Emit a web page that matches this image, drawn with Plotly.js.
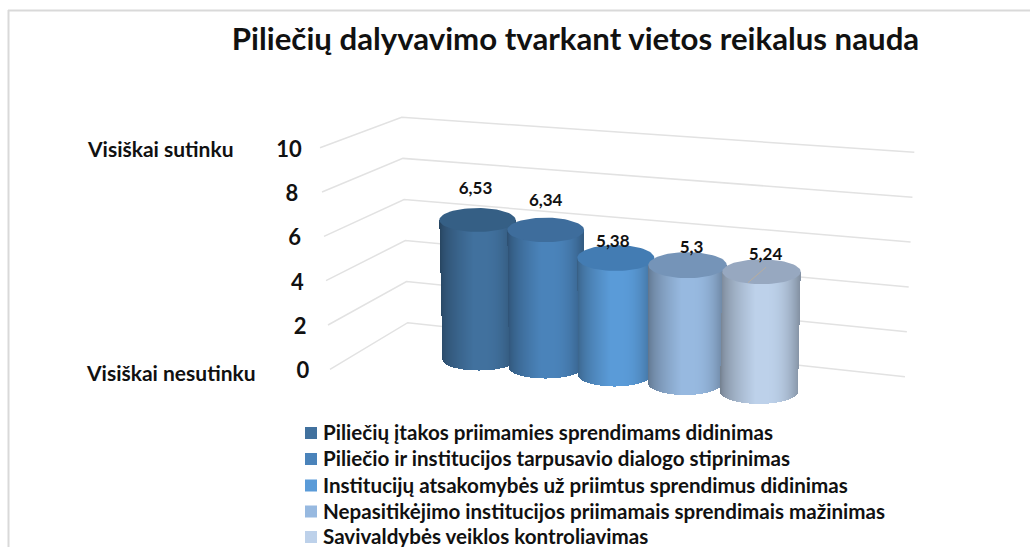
<!DOCTYPE html>
<html><head><meta charset="utf-8">
<script src="https://cdn.plot.ly/plotly-3.0.1.min.js"></script>
<style>html,body{margin:0;padding:0;background:#fff;overflow:hidden}#c{width:1030px;height:547px}</style>
</head><body><div id="c"></div>
<script>
// ---- data ----
var seriesNames = [
  "Piliečių įtakos priimamies sprendimams didinimas",
  "Piliečio ir institucijos tarpusavio dialogo stiprinimas",
  "Institucijų atsakomybės už priimtus sprendimus didinimas",
  "Nepasitikėjimo institucijos priimamais sprendimais mažinimas",
  "Savivaldybės veiklos kontroliavimas"
];
var seriesValues = [6.53, 6.34, 5.38, 5.3, 5.24];
var valueLabels = ["6,53", "6,34", "5,38", "5,3", "5,24"];
var axisTicks = [0, 2, 4, 6, 8, 10];
var chartTitle = "Piliečių dalyvavimo tvarkant vietos reikalus nauda";
var scaleLabelTop = "Visiškai sutinku";
var scaleLabelBottom = "Visiškai nesutinku";

// ---- 3D-look projection (style/geometry, separate from the data) ----
var FONT = "Lato, Carlito, sans-serif";
var swatch = ["#41719E", "#4A83BA", "#5A9BD8", "#97B9E0", "#BDD1EA"];
var capCol = ["#355F85", "#3E6D9C", "#437CB3", "#7594B8", "#97A8C0"];
var baseCx = [479, 545.5, 614.5, 685, 759];
var baseCy = [360, 368, 375, 383.3, 391.7];
var baseRx = [36.5, 36.5, 36.5, 37, 39];
var baseRy = [10.5, 10.5, 11.5, 11.7, 12.2];
var unitPx = [21.44, 21.77, 21.75, 22.3, 22.9];
var topCx = [477.5, 545.7, 615.8, 687.5, 761.5];
var topRx = [38.2, 38.4, 38.5, 39.2, 39.2];
var topRy = [12, 12.3, 13, 13, 12.5];
var labelDx = [-2, 0, -3, 4, 4];
var labelDy = [30, 28, 15, 16, 16];
var legendSwatchY = [433, 459, 485.5, 511.5, 537];
var legendTextY = [432, 458, 484.5, 510.5, 535.5];
function frontL(v){return [330 - v, 369.3 - 22.16 * v];}
function backC(v){return [407.7 - 0.6 * v, 322.7 - 20.54 * v];}
function rightE(v){return [905 + 0.93 * v, 376.7 - 22.44 * v];}

function hex(c){return [parseInt(c.slice(1,3),16),parseInt(c.slice(3,5),16),parseInt(c.slice(5,7),16)];}
function shade(col,u){ // u in [-1,1] across the cylinder
  var f;
  if(u<0.1){var t=(u+1)/1.1; f=0.62+0.38*Math.pow(Math.min(1,t*1.25),0.6);}
  else {var t2=(u-0.1)/0.9; f=1-0.30*Math.pow(t2,2.4);}
  var c=hex(col);
  return "rgb("+c.map(function(k){return Math.round(k*f);}).join(",")+")";
}

var traces = [];
// axis tick labels, placed along the projected front edge
traces.push({type:"scatter",mode:"text",
  x:axisTicks.map(function(v){return frontL(v)[0]-27-0.4*v;}),
  y:axisTicks.map(function(v){return frontL(v)[1]+3.5;}),
  text:axisTicks.map(String),textposition:"middle center",
  textfont:{family:FONT,size:22,color:"#111",weight:700},showlegend:false,hoverinfo:"skip"});

// cylinders: one bar per pixel column
seriesValues.forEach(function(val,i){
  var cyB=baseCy[i],cyT=cyB-val*unitPx[i];
  var tL=topCx[i]-topRx[i],tR=topCx[i]+topRx[i],bL=baseCx[i]-baseRx[i],bR=baseCx[i]+baseRx[i];
  var xs=[],bases=[],hs=[],cols=[];
  for(var x=Math.floor(Math.min(tL,bL));x<=Math.ceil(Math.max(tR,bR));x++){
    var xc=x+0.5,up,lo;
    var dB=(xc-baseCx[i])/baseRx[i], dT=(xc-topCx[i])/topRx[i];
    var leftT=(xc-tL)/((bL-tL)||1), rightT=(xc-tR)/((bR-tR)||1);
    if(Math.abs(dT)<=1) up=cyT; else {
      var s=xc<topCx[i]?leftT:rightT; up=cyT+s*(cyB-cyT); }
    if(Math.abs(dB)<=1) lo=cyB+baseRy[i]*Math.sqrt(1-dB*dB); else {
      var s2=xc<baseCx[i]?leftT:rightT; lo=cyT+s2*(cyB-cyT); }
    if(!(lo>up)) continue;
    xs.push(xc);bases.push(up);hs.push(lo-up);cols.push(shade(swatch[i],Math.max(-1,Math.min(1,(dT+dB)/2))));
  }
  traces.push({type:"bar",x:xs,y:hs,base:bases,width:1.02,marker:{color:cols,line:{width:0}},
    showlegend:false,hoverinfo:"skip"});
  var ex=[],ey=[];
  for(var a=0;a<=72;a++){var th=a/72*2*Math.PI;
    ex.push(topCx[i]+topRx[i]*Math.cos(th));ey.push(cyT+topRy[i]*Math.sin(th));}
  traces.push({type:"scatter",mode:"lines",x:ex,y:ey,fill:"toself",fillcolor:capCol[i],
    line:{width:0,color:capCol[i]},showlegend:false,hoverinfo:"skip"});
});
// faint leader line of the last label
var li=4,topLast=baseCy[li]-seriesValues[li]*unitPx[li];
traces.push({type:"scatter",mode:"lines",x:[topCx[li]-13.5,topCx[li]+4.5],y:[topLast+11,topLast-4.5],
  line:{color:"#B8AD9E",width:1},showlegend:false,hoverinfo:"skip"});
// value labels
traces.push({type:"scatter",mode:"text",
  x:seriesValues.map(function(v,i){return topCx[i]+labelDx[i];}),
  y:seriesValues.map(function(v,i){return baseCy[i]-v*unitPx[i]-labelDy[i];}),
  text:valueLabels,textposition:"middle center",
  textfont:{family:FONT,size:17,color:"#111",weight:700},showlegend:false,hoverinfo:"skip"});
// legend swatches
seriesNames.forEach(function(n,i){
  traces.push({type:"scatter",mode:"markers",name:n,x:[311],y:[legendSwatchY[i]],
    marker:{symbol:"square",size:12,color:swatch[i],line:{width:0}},showlegend:false,hoverinfo:"skip"});
});

var wallShapes = [];
axisTicks.forEach(function(v){
  var a=frontL(v),b=backC(v),c=rightE(v);
  wallShapes.push({type:"path",xref:"x",yref:"y",layer:"below",
    path:"M"+a[0]+" "+a[1]+"L"+b[0]+" "+b[1]+"L"+c[0]+" "+c[1],
    line:{color:"#E2E2E2",width:1.5}});
});
var legendAnn = seriesNames.map(function(n,i){
  return {xref:"x",yref:"y",x:324,y:legendTextY[i],text:n,showarrow:false,xanchor:"left",yanchor:"middle",
    xshift:-3,font:{family:FONT,size:20.6,color:"#111",weight:700}};
});

var layout = {
  width:1030,height:547,margin:{l:0,r:0,t:0,b:0,autoexpand:false},autosize:false,
  paper_bgcolor:"#fff",plot_bgcolor:"#fff",barmode:"overlay",bargap:0,showlegend:false,
  title:{text:chartTitle,x:575.5/1030,xanchor:"center",xref:"paper",y:1-39/547,yanchor:"middle",yref:"paper",
    font:{family:FONT,size:31.2,color:"#111",weight:700}},
  xaxis:{range:[0,1030],visible:false,fixedrange:true},
  yaxis:{range:[547,0],visible:false,fixedrange:true},
  annotations:[
    {xref:"x",yref:"y",x:88,y:148,text:scaleLabelTop,showarrow:false,xanchor:"left",yanchor:"middle",xshift:-3,
     font:{family:FONT,size:21,color:"#111",weight:700}},
    {xref:"x",yref:"y",x:87,y:372,text:scaleLabelBottom,showarrow:false,xanchor:"left",yanchor:"middle",xshift:-3,
     font:{family:FONT,size:21,color:"#111",weight:700}}
  ].concat(legendAnn),
  shapes:[
    {type:"line",xref:"x",yref:"y",x0:8,x1:1030,y0:10.5,y1:10.5,line:{color:"#D9D9D9",width:2},layer:"below"},
    {type:"line",xref:"x",yref:"y",x0:8.5,x1:8.5,y0:10,y1:547,line:{color:"#D9D9D9",width:2},layer:"below"}
  ].concat(wallShapes)
};
Plotly.newPlot("c",traces,layout,{displayModeBar:false,staticPlot:true});
</script></body></html>
